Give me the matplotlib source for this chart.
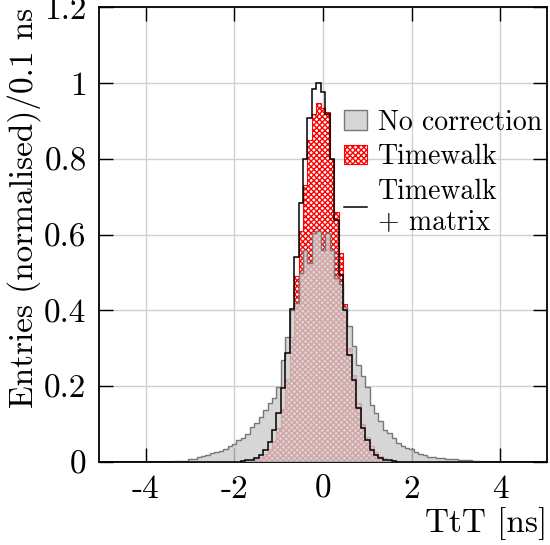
import numpy as np
import matplotlib
matplotlib.use("Agg")
from matplotlib import pyplot as plt

plt.rcParams['font.family'] = 'cmr10'
plt.rcParams['mathtext.fontset'] = 'cm'
plt.rcParams['axes.unicode_minus'] = False
plt.rcParams['hatch.linewidth'] = 1.0

# histogram bins: 0.1 ns, centred on multiples of 0.1 from -5 to 5
nbins = 101
x_lo, x_hi = -5.05, 5.05

# No correction (starts at bin centre -3.3)
gray_start = -3.3
gray = [0.002, 0.0035, 0.0035, 0.008, 0.008, 0.012, 0.016, 0.019, 0.023, 0.026,
        0.030, 0.035, 0.041, 0.048, 0.058, 0.063, 0.074, 0.093, 0.102, 0.12,
        0.138, 0.155, 0.168, 0.199, 0.27, 0.33, 0.40, 0.42, 0.50, 0.561,
        0.526, 0.605, 0.61, 0.561, 0.605, 0.56, 0.487, 0.47, 0.41, 0.358,
        0.305, 0.257, 0.226, 0.199, 0.151, 0.13, 0.107, 0.085, 0.077, 0.063,
        0.05, 0.042, 0.037, 0.034, 0.027, 0.021, 0.019, 0.014, 0.013, 0.011,
        0.010, 0.008, 0.008, 0.007, 0.006, 0.005, 0.004, 0.003, 0.002]

# Timewalk (starts at -1.9)
red_start = -1.9
red = [0.001, 0.002, 0.003, 0.005, 0.008, 0.013, 0.022, 0.035, 0.055, 0.09,
       0.14, 0.22, 0.33, 0.49, 0.61, 0.73, 0.85, 0.92, 0.947, 0.935,
       0.925, 0.80, 0.66, 0.553, 0.418, 0.30, 0.23, 0.155, 0.10, 0.066,
       0.042, 0.026, 0.016, 0.010, 0.006, 0.004, 0.002, 0.001]

# Timewalk + matrix (starts at -1.9)
black_start = -1.9
black = [0.001, 0.002, 0.004, 0.006, 0.010, 0.019, 0.032, 0.054, 0.085, 0.129,
         0.196, 0.288, 0.405, 0.54, 0.684, 0.80, 0.907, 0.984, 1.0, 0.977,
         0.918, 0.80, 0.64, 0.495, 0.40, 0.283, 0.217, 0.142, 0.089, 0.058,
         0.032, 0.019, 0.010, 0.006, 0.004, 0.002, 0.001]

xticks = [-4, -2, 0, 2, 4]
xticklabels = ['-4', '-2', '0', '2', '4']
yticks = [0, 0.2, 0.4, 0.6, 0.8, 1.0, 1.2]
yticklabels = ['0', '0.2', '0.4', '0.6', '0.8', '1', '1.2']

edges = np.linspace(x_lo, x_hi, nbins + 1)

def full(vals, start):
    h = np.zeros(nbins)
    i0 = int(round((start - x_lo - 0.05) / 0.1))
    h[i0:i0 + len(vals)] = vals
    return h

fig = plt.figure(figsize=(5.5, 5.45), dpi=100)
ax = fig.add_axes([0.18, 0.1523, 0.8145, 0.834])

h_red = ax.stairs(full(red, red_start), edges, fill=True, facecolor='white',
                  edgecolor='red', hatch='xxxxxx', lw=0.8, label='Timewalk', zorder=2)
h_gray = ax.stairs(full(gray, gray_start), edges, fill=True,
                   facecolor=(0.8, 0.8, 0.8, 0.8), edgecolor='#777777', lw=1.0,
                   label='No correction', zorder=3)
h_black = ax.stairs(full(black, black_start), edges, color='black', lw=1.1,
                    label='Timewalk\n+ matrix', zorder=4)

ax.set_xlim(x_lo, x_hi)
ax.set_ylim(0, 1.2)
ax.set_xticks(xticks)
ax.set_xticklabels(xticklabels)
ax.set_yticks(yticks)
ax.set_yticklabels(yticklabels)
ax.tick_params(direction='in', length=10, width=1, top=True, right=True,
               labelsize=24, pad=9)
ax.grid(True, color='#d0d0d0', lw=1)
ax.set_axisbelow(True)
for s in ax.spines.values():
    s.set_linewidth(1.3)

ax.set_xlabel('TtT [ns]', fontsize=24, loc='right')
ax.set_ylabel('Entries (normalised)/0.1 ns', fontsize=24, loc='top')
ax.xaxis.set_label_coords(1.0, -0.1)
ax.yaxis.set_label_coords(-0.13, 1.0)

ax.legend(handles=[h_gray, h_red, h_black], loc='upper left',
          bbox_to_anchor=(0.548, 0.776), frameon=False, fontsize=20,
          handlelength=0.8, handleheight=0.7, handletextpad=0.42,
          borderpad=0, borderaxespad=0, labelspacing=0.3)

fig.savefig('out.png', dpi=100)
